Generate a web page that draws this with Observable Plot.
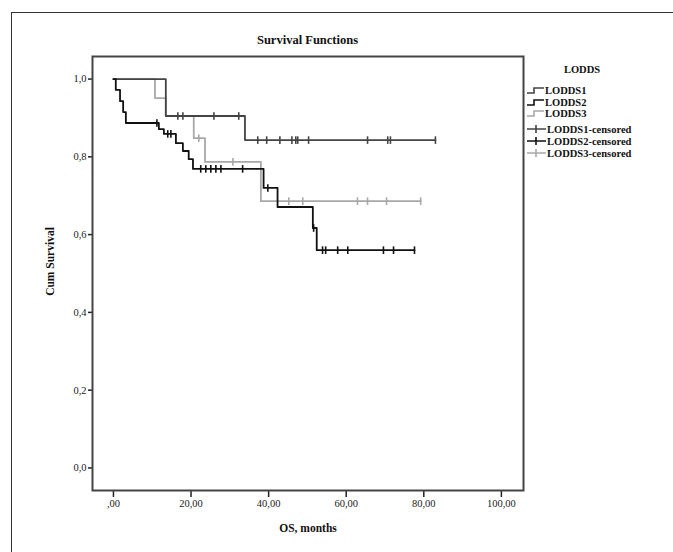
<!DOCTYPE html>
<html><head><meta charset="utf-8">
<script src="https://cdn.jsdelivr.net/npm/d3@7"></script>
<script src="https://cdn.jsdelivr.net/npm/@observablehq/plot@0.6"></script>
<style>
html,body{margin:0;padding:0;background:#fff;overflow:hidden;}
#wrap{position:relative;width:673px;height:552px;overflow:hidden;font-family:"Liberation Serif","DejaVu Serif",serif;}
#border{position:absolute;left:11px;top:12px;width:700px;height:600px;border-left:1.5px solid #333;border-top:1.5px solid #333;}
#title{position:absolute;left:92px;width:431px;top:33px;text-align:center;font-weight:bold;font-size:12.5px;color:#111;}
#chart{position:absolute;left:0;top:0;}
#legend{position:absolute;left:0;top:0;}
</style></head><body>
<div id="wrap"><div id="border"></div><div id="title">Survival Functions</div><div id="chart"></div><svg id="legend" width="673" height="552"></svg></div>
<script>
const groups = ["LODDS1", "LODDS2", "LODDS3"];
const colors = ["#444444", "#111111", "#a8a8a8"];
const xTicks = [0, 20, 40, 60, 80, 100];
const yTicks = [0, 0.2, 0.4, 0.6, 0.8, 1.0];

// LODDS1
const lodds1Time = [13.5, 33.9];
const lodds1Surv = [0.905, 0.843];
const lodds1Censor = [16.6, 17.9, 25.9, 32.3, 37.2, 39.5, 42.9, 46.0, 47.0, 47.5, 50.3, 65.5, 70.7, 71.4, 83.0];
// LODDS2
const lodds2Time = [0.6, 1.7, 2.5, 3.2, 11.7, 13.0, 16.1, 17.9, 19.4, 20.5, 38.7, 42.3, 51.4, 52.4];
const lodds2Surv = [0.972, 0.943, 0.915, 0.887, 0.871, 0.859, 0.835, 0.815, 0.794, 0.769, 0.720, 0.671, 0.617, 0.560];
const lodds2Censor = [11.2, 14.0, 14.8, 22.5, 23.8, 25.1, 26.4, 27.7, 33.3, 39.8, 51.6, 53.9, 54.7, 57.8, 60.4, 69.6, 72.2, 77.6];
// LODDS3
const lodds3Time = [10.7, 13.5, 20.7, 23.6, 38.0];
const lodds3Surv = [0.951, 0.905, 0.848, 0.787, 0.686];
const lodds3Censor = [22.0, 30.8, 45.2, 48.8, 62.9, 65.5, 70.4, 79.2];

function stepData(name, times, surv, cens) {
  const pts = [{group: name, t: 0, s: 1}];
  times.forEach((t, i) => pts.push({group: name, t, s: surv[i]}));
  pts.push({group: name, t: d3.max(cens), s: surv[surv.length - 1]});
  return pts;
}
function censorData(name, times, surv, cens) {
  return cens.map(c => {
    let s = 1;
    times.forEach((t, i) => { if (t <= c) s = surv[i]; });
    return {group: name, t: c, s};
  });
}
const series = [
  ["LODDS3", lodds3Time, lodds3Surv, lodds3Censor],
  ["LODDS1", lodds1Time, lodds1Surv, lodds1Censor],
  ["LODDS2", lodds2Time, lodds2Surv, lodds2Censor]
];
const lines = series.flatMap(d => stepData(...d));
const censors = series.flatMap(d => censorData(...d));

const vtick = {draw(context, size) { context.moveTo(0, -3.8); context.lineTo(0, 3.8); }};
const fmtX = d => d === 0 ? ",00" : d.toFixed(2).replace(".", ",");
const fmtY = d => d.toFixed(1).replace(".", ",");

const chart = Plot.plot({
  width: 673, height: 552,
  marginLeft: 92, marginRight: 150, marginTop: 56, marginBottom: 62,
  style: {background: "transparent", fontFamily: "'Liberation Serif', serif", fontSize: "10.5px", color: "#222"},
  x: {domain: [-5.4, 105.7]},
  y: {domain: [-0.058, 1.058]},
  color: {domain: groups, range: colors},
  marks: [
    Plot.axisX(xTicks, {tickFormat: fmtX, tickSize: 7, tickPadding: 2, strokeWidth: 1.5, label: null, fontSize: 10.5}),
    Plot.axisY(yTicks, {tickFormat: fmtY, tickSize: 4, tickPadding: 2, strokeWidth: 1.5, label: null, fontSize: 10.5}),
    Plot.frame({stroke: "#444", strokeWidth: 2}),
    Plot.line(lines, {x: "t", y: "s", z: "group", stroke: "group", curve: "step-after", strokeWidth: 1.8}),
    Plot.dot(censors, {x: "t", y: "s", stroke: "group", symbol: vtick, strokeWidth: 1.6}),
    Plot.text(["OS, months"], {frameAnchor: "bottom", lineAnchor: "middle", dy: 38, fontWeight: "bold", fontSize: 11.5, fill: "#111"}),
    Plot.text(["Cum Survival"], {frameAnchor: "left", textAnchor: "middle", lineAnchor: "middle", dx: -42, dy: -12, rotate: -90, fontWeight: "bold", fontSize: 11.5, fill: "#111"})
  ]
});
document.getElementById("chart").appendChild(chart);

// Legend
const lg = d3.select("#legend").style("font-family", "'Liberation Serif', serif");
lg.append("text").attr("x", 582).attr("y", 73).attr("text-anchor", "middle")
  .attr("font-size", 10.5).attr("font-weight", "bold").attr("fill", "#111").text("LODDS");
const rows = [90, 102, 113, 129, 141, 153];
groups.forEach((g, i) => {
  const y = rows[i];
  lg.append("path").attr("d", `M527,${y + 3}H534V${y - 2}H544`).attr("fill", "none")
    .attr("stroke", colors[i]).attr("stroke-width", 1.6);
  lg.append("text").attr("x", 545).attr("y", y + 3.5).attr("font-size", 10.5).attr("font-weight", "bold")
    .attr("fill", "#111").text(g);
  const yc = rows[i + 3];
  lg.append("path").attr("d", `M527,${yc}H546M536,${yc - 4}V${yc + 4}`).attr("fill", "none")
    .attr("stroke", colors[i]).attr("stroke-width", 1.6);
  lg.append("text").attr("x", 547).attr("y", yc + 3.5).attr("font-size", 10.5).attr("font-weight", "bold")
    .attr("fill", "#111").text(g + "-censored");
});
</script>
</body></html>
